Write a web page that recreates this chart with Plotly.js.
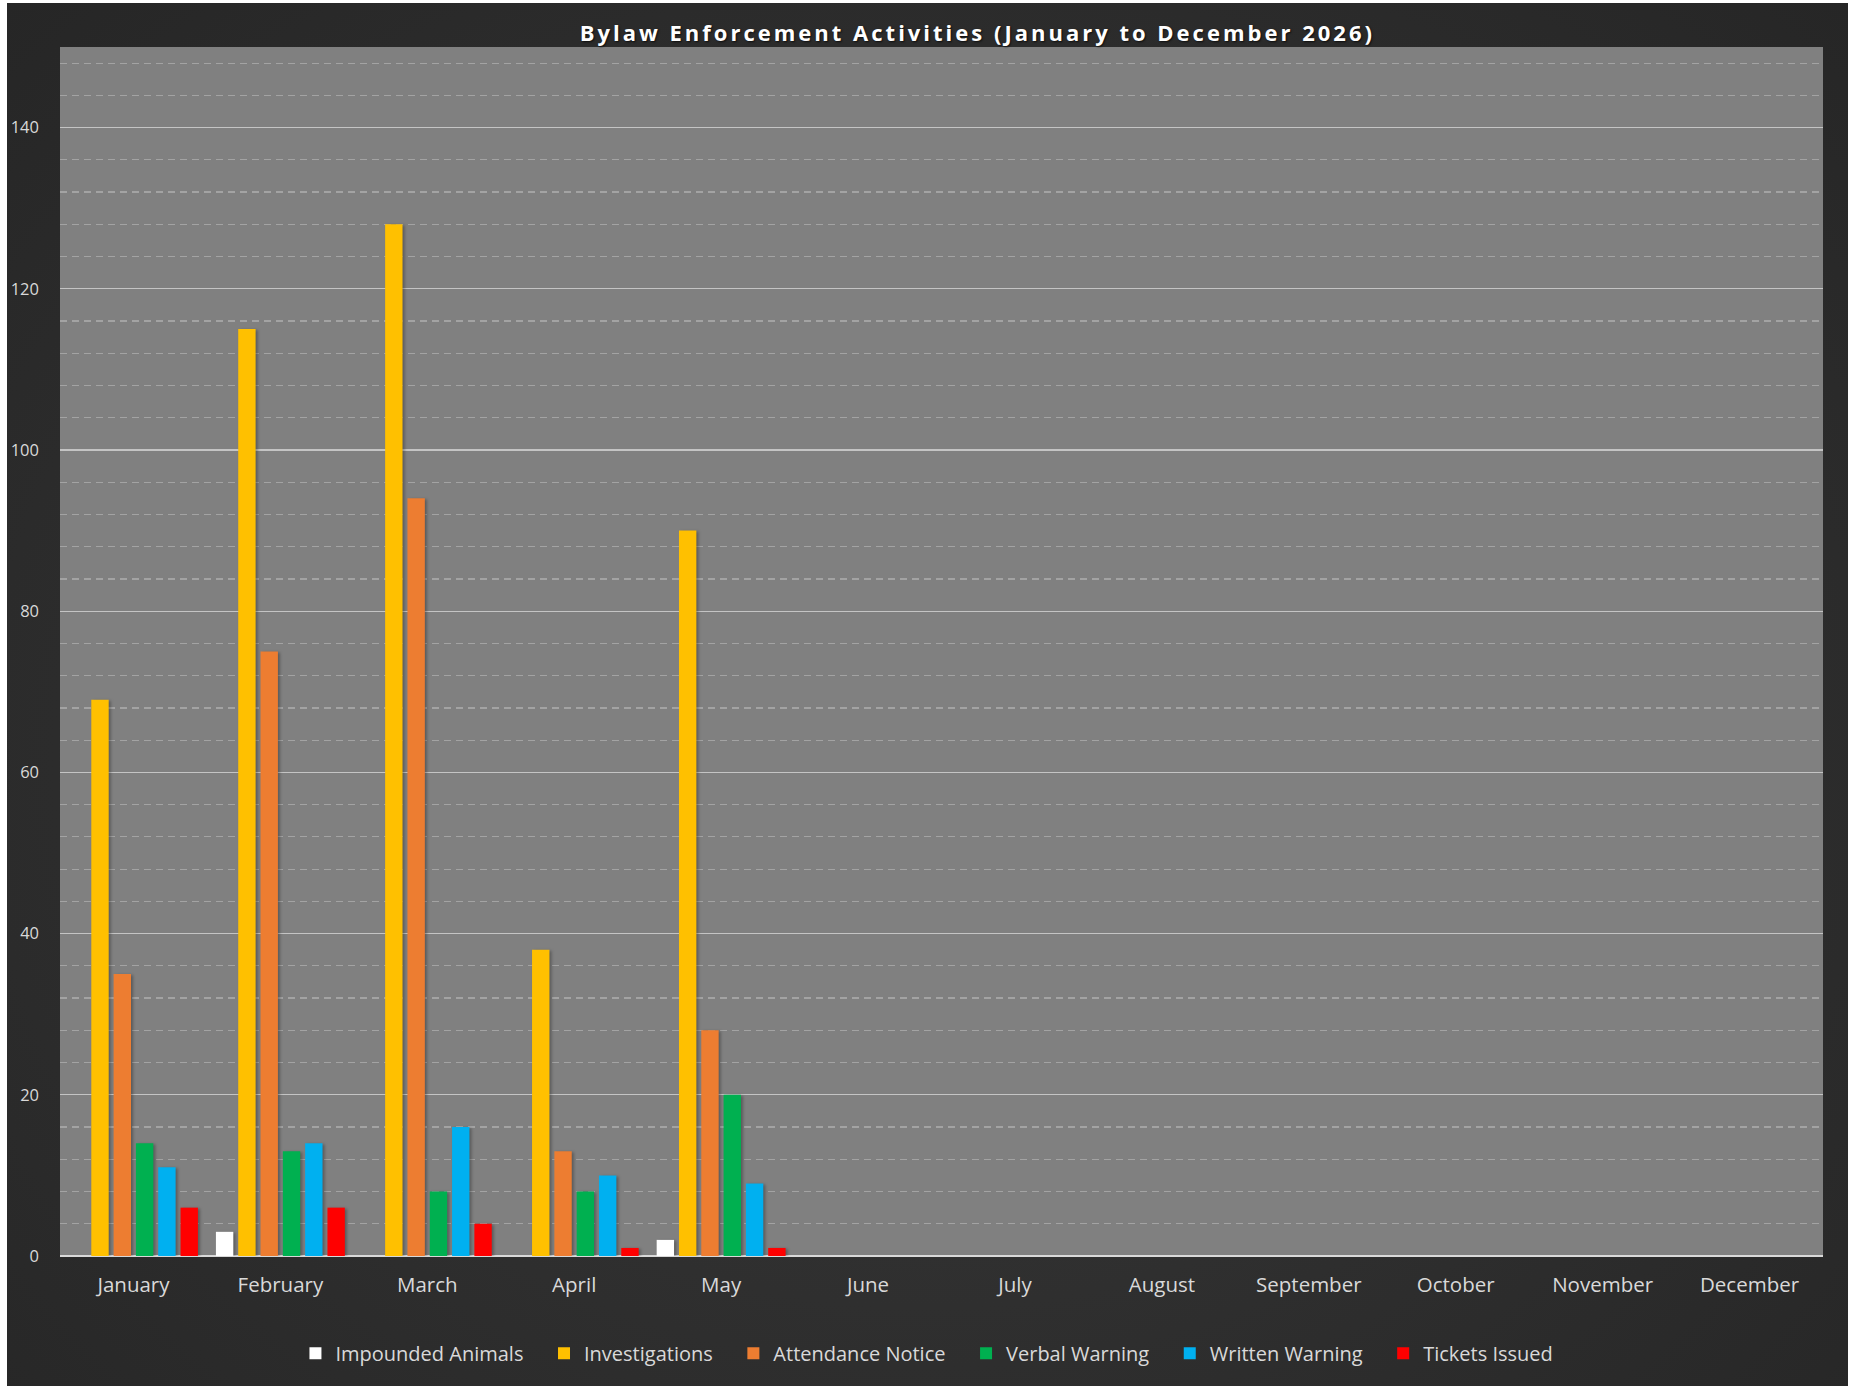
<!DOCTYPE html>
<html>
<head>
<meta charset="utf-8">
<script src="https://cdn.plot.ly/plotly-3.0.1.min.js"></script>
<style>
  html, body { margin: 0; padding: 0; background: #ffffff; }
  #bg {
    position: absolute; left: 7px; top: 3px; width: 1841px; height: 1383px;
    background: radial-gradient(ellipse at 50% 55%, #3a3a3a 0%, #303030 45%, #262626 100%);
  }
  #chart { position: absolute; left: 0; top: 0; width: 1851px; height: 1388px; }
  .gtitle { letter-spacing: 3px; }
  .barlayer .point path { filter: drop-shadow(2px 1px 1.5px rgba(0,0,0,0.3)); }
</style>
</head>
<body>
<div id="bg"></div>
<div id="chart"></div>
<script>
const months = ["January","February","March","April","May","June","July","August","September","October","November","December"];
const impoundedAnimals  = [0, 3, 0, 0, 2, null, null, null, null, null, null, null];
const investigations    = [69, 115, 128, 38, 90, null, null, null, null, null, null, null];
const attendanceNotice  = [35, 75, 94, 13, 28, null, null, null, null, null, null, null];
const verbalWarning     = [14, 13, 8, 8, 20, null, null, null, null, null, null, null];
const writtenWarning    = [11, 14, 16, 10, 9, null, null, null, null, null, null, null];
const ticketsIssued     = [6, 6, 4, 1, 1, null, null, null, null, null, null, null];

const seriesNames  = ["Impounded Animals","Investigations","Attendance Notice","Verbal Warning","Written Warning","Tickets Issued"];
const seriesValues = [impoundedAnimals, investigations, attendanceNotice, verbalWarning, writtenWarning, ticketsIssued];
const seriesColors = ["#ffffff","#ffc000","#ed7d31","#00b050","#00b0f0","#ff0000"];

const FONT = "'Open Sans', Lato, sans-serif";
const LEGEND_PAD = "\u00a0\u00a0\u00a0";

const traces = seriesNames.map((name, i) => ({
  type: "bar",
  name: name + LEGEND_PAD,
  x: months,
  y: seriesValues[i],
  marker: { color: seriesColors[i], line: { width: 0 } },
  hoverinfo: "x+y+name"
}));

const layout = {
  width: 1851,
  height: 1388,
  paper_bgcolor: "rgba(0,0,0,0)",
  plot_bgcolor: "#808080",
  margin: { l: 60, r: 28, t: 47, b: 132, pad: 0 },
  barmode: "group",
  bargap: 0.089,
  bargroupgap: 0.22,
  title: {
    text: "<b>Bylaw Enforcement Activities (January to December 2026)</b>",
    font: { family: FONT, size: 22, color: "#ffffff", shadow: "1px 1px 2px rgba(0,0,0,0.7)" },
    x: 0.528, xanchor: "center", xref: "container",
    y: 0.976, yanchor: "middle"
  },
  xaxis: {
    type: "category",
    showgrid: false,
    showline: false,
    ticks: "",
    tickfont: { family: FONT, size: 20.5, color: "#d9d9d9" },
    ticklabelstandoff: 14,
    fixedrange: true
  },
  yaxis: {
    range: [0, 150],
    dtick: 20,
    tick0: 0,
    showline: false,
    ticks: "",
    gridcolor: "#c4c4c4",
    gridwidth: 1.3,
    zeroline: true,
    zerolinecolor: "#d9d9d9",
    zerolinewidth: 2,
    tickfont: { family: FONT, size: 16.5, color: "#d9d9d9" },
    ticklabelstandoff: 20,
    minor: {
      dtick: 4,
      tick0: 0,
      showgrid: true,
      gridcolor: "#a3a3a3",
      gridwidth: 1.2,
      griddash: "7px,5px"
    },
    fixedrange: true
  },
  showlegend: true,
  legend: {
    orientation: "h",
    x: 0.496, xanchor: "center",
    y: 0.025, yanchor: "middle",
    yref: "container",
    font: { family: FONT, size: 20, color: "#d9d9d9" },
    itemwidth: 30,
    bgcolor: "rgba(0,0,0,0)",
    traceorder: "normal"
  }
};

Plotly.newPlot("chart", traces, layout, { displayModeBar: false, staticPlot: true });
</script>
</body>
</html>
